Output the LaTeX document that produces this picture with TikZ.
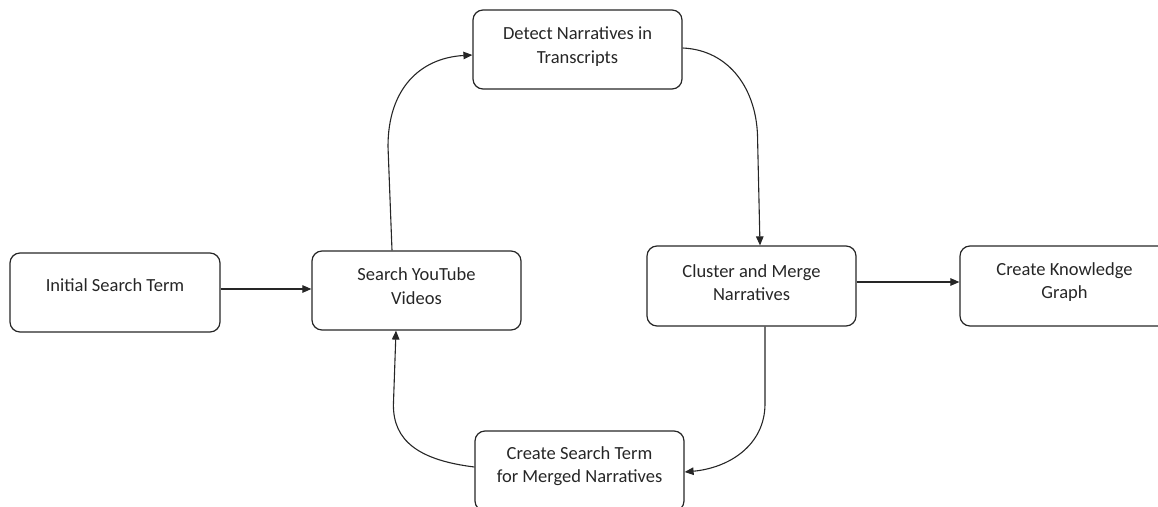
\documentclass[tikz,border=0pt]{standalone}
\usepackage{fontspec}
\setmainfont{Carlito}
\usetikzlibrary{arrows.meta}
\begin{document}
\begin{tikzpicture}[x=1pt,y=-1pt,
  box/.style={draw=black!85, line width=1.2pt, rounded corners=10pt, minimum width=209pt, minimum height=80pt, inner sep=0pt},
  txt/.style={align=center, font=\fontsize{18.5}{23.5}\selectfont, text=black!85, inner sep=0pt},
  conn/.style={draw=black!85, line width=1.1pt, -{Triangle[length=9pt,width=7.5pt]}}]
\useasboundingbox (0,0) rectangle (1158,506);
\clip (0,0) rectangle (1158,506);
% boxes
\node[box, minimum width=210pt, minimum height=79pt] (init) at (115,292.5) {};
\node[box, minimum height=79pt] (search) at (416.5,290.5) {};
\node[box, minimum height=79pt] (detect) at (577.5,49.5) {};
\node[box] (cluster) at (751.5,286) {};
\node[box] (know) at (1064.5,286) {};
\node[box] (create) at (579.5,471) {};
% texts
\node[txt] (initT) at ([yshift=7.5pt]init.center) {Initial Search Term};
\node[txt] (searchT) at ([yshift=4.5pt]search.center) {Search YouTube\\Videos};
\node[txt] (detectT) at ([yshift=3pt]detect.center) {Detect Narratives in\\Transcripts};
\node[txt] (clusterT) at ([yshift=3.5pt]cluster.center) {Cluster and Merge\\Narratives};
\node[txt] (knowT) at ([yshift=4pt]know.center) {Create Knowledge\\Graph};
\node[txt] (createT) at ([yshift=5pt]create.center) {Create Search Term\\for Merged Narratives};
% connectors
\draw[conn] ([yshift=3.5pt]init.east) -- ([yshift=3.5pt]init.east -| search.west);
\draw[conn] ([yshift=4pt]cluster.east) -- ([yshift=4pt]cluster.east -| know.west);
\draw[conn] ([xshift=-24.5pt]search.north) -- ++(-4,-104)
  .. controls +(0,-57) and +(-53,3) .. ([yshift=-5.5pt]detect.west);
\draw[conn] ([yshift=1.5pt]detect.east) .. controls +(47,2) and +(0,-50) .. ++(75,92)
  -- ([xshift=8.5pt]cluster.north);
\draw[conn] ([xshift=13.5pt]cluster.south) -- ++(0,77)
  .. controls +(0,42) and +(44,-4) .. ([yshift=-1pt]create.east);
\draw[conn] ([yshift=4pt]create.west) .. controls +(-57,-7) and +(0,35) .. ++(-81,-62)
  -- ([xshift=-20.5pt]search.south);
\end{tikzpicture}
\end{document}
